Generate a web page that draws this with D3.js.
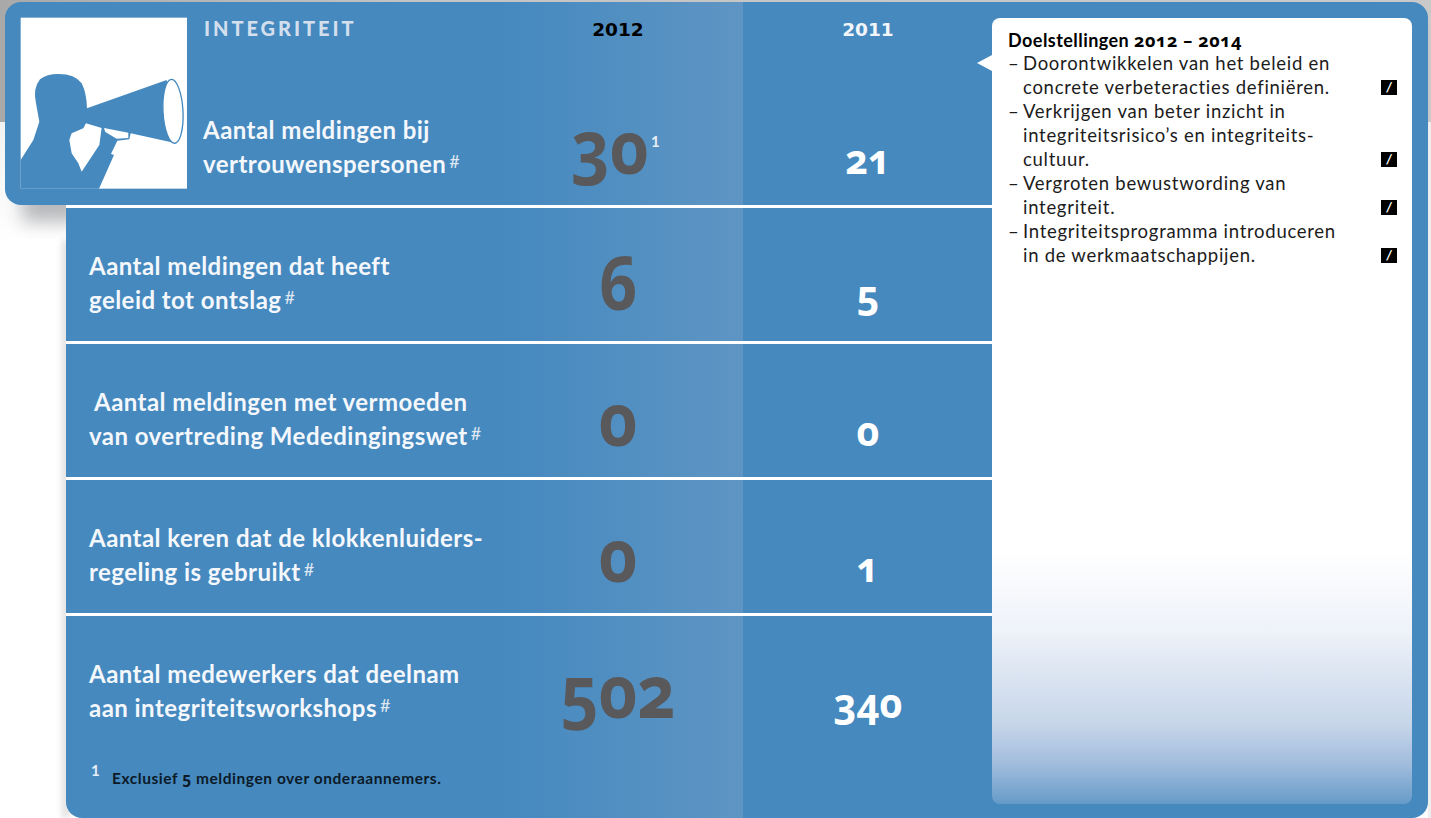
<!DOCTYPE html>
<html>
<head>
<meta charset="utf-8">
<script src="https://cdn.jsdelivr.net/npm/d3@7"></script>
<style>
  html, body { margin: 0; padding: 0; background: #fff; overflow: hidden; }
  svg { display: block; }
  .label { font-family: Lato; font-weight: 700; font-size: 24px; fill: #f4f7fb; letter-spacing: 0.46px; }
  .hash { font-family: Lato; font-weight: 400; font-size: 18px; fill: #dfe8f2; letter-spacing: 0; }
  .year { font-family: "DejaVu Sans"; font-weight: 700; font-size: 18.5px; text-anchor: middle; }
  .num { font-family: "Open Sans"; font-weight: 700; text-anchor: middle; font-feature-settings: "onum"; }
  .onum { font-family: "Open Sans"; font-feature-settings: "onum"; }
  .goal { font-family: Lato; font-size: 18.5px; fill: #1c1c1c; letter-spacing: 0.72px; }
</style>
</head>
<body>
<script>
var years = ["2012", "2011"];
var labels = [
  ["Aantal meldingen bij", "vertrouwenspersonen"],
  ["Aantal meldingen dat heeft", "geleid tot ontslag"],
  ["Aantal meldingen met vermoeden", "van overtreding Mededingingswet"],
  ["Aantal keren dat de klokkenluiders-", "regeling is gebruikt"],
  ["Aantal medewerkers dat deelnam", "aan integriteitsworkshops"]
];
var values2012 = [30, 6, 0, 0, 502];
var values2011 = [21, 5, 0, 1, 340];
var goalLines = [
  "Doorontwikkelen van het beleid en",
  "concrete verbeteracties definiëren.",
  "Verkrijgen van beter inzicht in",
  "integriteitsrisico’s en integriteits-",
  "cultuur.",
  "Vergroten bewustwording van",
  "integriteit.",
  "Integriteitsprogramma introduceren",
  "in de werkmaatschappijen."
];
var goalDashes = [0, 2, 5, 7];
var goalMarks = [1, 4, 6, 8];

var blue = "#4589bf";
var svg = d3.select("body").append("svg").attr("width", 1431).attr("height", 818);
var defs = svg.append("defs");

// gradients + shadow
var colGrad = defs.append("linearGradient").attr("id", "col");
colGrad.append("stop").attr("offset", "0").attr("stop-color", blue);
colGrad.append("stop").attr("offset", "1").attr("stop-color", "#5e95c4");

var bandGrad = defs.append("linearGradient").attr("id", "band");
bandGrad.append("stop").attr("offset", "0").attr("stop-color", "#a9a9a9");
bandGrad.append("stop").attr("offset", "0.3").attr("stop-color", "#c4c4c4");
bandGrad.append("stop").attr("offset", "1").attr("stop-color", "#c9c9c9");

var leftGrad = defs.append("linearGradient").attr("id", "left").attr("x2", 0).attr("y2", 1);
leftGrad.append("stop").attr("offset", "0").attr("stop-color", "#f1f2f2");
leftGrad.append("stop").attr("offset", "1").attr("stop-color", "#ffffff");

var panelGrad = defs.append("linearGradient").attr("id", "panel").attr("x2", 0).attr("y2", 1);
[[0, "#ffffff"], [0.68, "#ffffff"], [0.78, "#eef2f9"], [0.9, "#c6d5e9"], [0.95, "#a0bcdc"], [1, "#659bc8"]].forEach(function (s) {
  panelGrad.append("stop").attr("offset", s[0]).attr("stop-color", s[1]);
});
defs.append("filter").attr("id", "blur").attr("x", "-50%").attr("y", "-50%").attr("width", "200%").attr("height", "200%")
  .append("feGaussianBlur").attr("stdDeviation", 9);
defs.append("filter").attr("id", "blur2").attr("x", "-200%").attr("width", "500%")
  .append("feGaussianBlur").attr("stdDeviation", 3);

// page background band
svg.append("rect").attr("width", 1431).attr("height", 122).attr("fill", "url(#band)");
svg.append("rect").attr("y", 122).attr("width", 66).attr("height", 120).attr("fill", "url(#left)");
svg.append("rect").attr("x", 1428).attr("y", 122).attr("width", 3).attr("height", 696).attr("fill", "#eeeeee");

// shadows
svg.append("rect").attr("x", 22).attr("y", 188).attr("width", 60).attr("height", 34).attr("fill", "#8e9094").attr("opacity", 0.62).attr("filter", "url(#blur)");
svg.append("rect").attr("x", 62).attr("y", 240).attr("width", 8).attr("height", 578).attr("fill", "#999").attr("opacity", 0.3).attr("filter", "url(#blur2)");

// card
svg.append("rect").attr("x", 5).attr("y", 2).attr("width", 1423).attr("height", 203).attr("rx", 16).attr("fill", blue);
svg.append("path").attr("fill", blue)
  .attr("d", "M66 100H1428V802a16 16 0 0 1-16 16H82a16 16 0 0 1-16-16Z");

// lighter 2012 column
svg.append("rect").attr("x", 500).attr("y", 2).attr("width", 243).attr("height", 816).attr("fill", "url(#col)");

var y = d3.scaleBand().domain(d3.range(labels.length)).range([70, 750]);
var x = d3.scalePoint().domain(years).range([618, 868]);

// separators
svg.selectAll("rect.sep").data(d3.range(labels.length - 1)).enter().append("rect")
  .attr("class", "sep")
  .attr("x", 66).attr("width", 926).attr("height", 3)
  .attr("y", function (d) { return y(d) + y.bandwidth() - 1; })
  .attr("fill", "#fff");

// icon
var icon = svg.append("g").attr("transform", "scale(0.3333)");
icon.append("rect").attr("x", 62).attr("y", 53).attr("width", 499).attr("height", 513).attr("fill", "#fff");
icon.append("path").attr("fill", blue).attr("d",
  "M62 480L100 420L118 365L108 310Q98 265 120 238Q140 222 175 222Q225 222 245 250Q260 280 261 325L500 240L528 430L392 400L388 418L352 422L333 462L342 465L297 566H62Z");
icon.append("ellipse").attr("cx", 519).attr("cy", 334).attr("rx", 30).attr("ry", 96)
  .attr("transform", "rotate(-3 519 334)").attr("fill", "#fff").attr("stroke", blue).attr("stroke-width", 4);
icon.append("path").attr("fill", "#fff").attr("d",
  "M258 370L305 384L298 435L245 515L235 490L215 460L208 420L215 400L250 385Z");
icon.append("path").attr("fill", "#fff").attr("d", "M312 384L385 398L385 414L350 416L316 396Z");

// header
svg.append("text").attr("x", 204).attr("y", 36).text("INTEGRITEIT")
  .attr("font-family", "Lato").attr("font-weight", 900).attr("font-size", 20)
  .attr("letter-spacing", 2.95).attr("fill", "#d3dfed");
svg.selectAll("text.year").data(years).enter().append("text")
  .attr("class", "year").attr("x", function (d) { return x(d); }).attr("y", 36)
  .attr("fill", function (d, i) { return i === 0 ? "#000" : "#f2f6fa"; })
  .text(function (d) { return d; });

// row labels
var rows = svg.selectAll("g.row").data(labels).enter().append("g").attr("class", "row")
  .attr("transform", function (d, i) { return "translate(" + (i === 0 ? 203 : 89) + "," + y(i) + ")"; });
rows.append("text").attr("class", "label").attr("y", 69)
  .attr("x", function (d, i) { return i === 2 ? 5 : 0; })
  .text(function (d) { return d[0]; });
var second = rows.append("text").attr("class", "label").attr("y", 103);
second.append("tspan").text(function (d) { return d[1]; });
second.append("tspan").attr("class", "hash").attr("dx", 3).attr("dy", -5).text("#");

// values - digits squeezed a bit, the original face is narrower than Open Sans
svg.selectAll("text.v12").data(values2012).enter().append("text")
  .attr("class", "num v12")
  .attr("transform", function (d, i) { return "translate(" + (x("2012") - (i === 0 ? 8 : 0)) + "," + (y(i) + 104) + ") scale(0.9,1)"; })
  .attr("font-size", 74).attr("fill", "#59595b").text(function (d) { return d; });
svg.selectAll("text.v11").data(values2011).enter().append("text")
  .attr("class", "num v11")
  .attr("transform", function (d, i) { return "translate(" + x("2011") + "," + (y(i) + 104) + ") scale(0.94,1)"; })
  .attr("font-size", 42).attr("fill", "#fff").text(function (d) { return d; });
svg.append("text").attr("x", 651).attr("y", 147).attr("font-family", "Lato").attr("font-weight", 700)
  .attr("font-size", 15).attr("fill", "#e6eef6").text("1");

// footnote
svg.append("text").attr("x", 91).attr("y", 776).attr("font-family", "Lato").attr("font-weight", 700)
  .attr("font-size", 15).attr("fill", "#e6eef6").text("1");
var foot = svg.append("text").attr("x", 112).attr("y", 784).attr("font-family", "Lato").attr("font-weight", 700)
  .attr("font-size", 15.5).attr("letter-spacing", 0.55).attr("fill", "#0c1a28").text("Exclusief ");
foot.append("tspan").attr("class", "onum").text("5");
foot.append("tspan").text(" meldingen over onderaannemers.");

// goals panel
svg.append("rect").attr("x", 992).attr("y", 18).attr("width", 420).attr("height", 786).attr("rx", 8).attr("fill", "url(#panel)");
svg.append("path").attr("d", "M977 63L992 55V71Z").attr("fill", "#fff");
var goalTitle = svg.append("text").attr("x", 1008).attr("y", 47).attr("font-family", "Lato").attr("font-weight", 700)
  .attr("font-size", 18).attr("letter-spacing", 0.45).attr("fill", "#000").text("Doelstellingen ");
goalTitle.append("tspan").attr("class", "onum").attr("letter-spacing", 0.6).text("2012 – 2014");
svg.selectAll("text.goal").data(goalLines).enter().append("text")
  .attr("class", "goal")
  .attr("x", 1023).attr("y", function (d, i) { return 70 + i * 24; })
  .text(function (d) { return d; });
svg.selectAll("text.dash").data(goalDashes).enter().append("text")
  .attr("class", "goal dash")
  .attr("x", 1008).attr("y", function (d) { return 70 + d * 24; })
  .text("–");
var marks = svg.selectAll("g.mark").data(goalMarks).enter().append("g").attr("class", "mark")
  .attr("transform", function (d) { return "translate(1381," + (56 + d * 24) + ")"; });
marks.append("rect").attr("width", 16).attr("height", 15).attr("fill", "#000");
marks.append("text").attr("x", 8).attr("y", 12).attr("text-anchor", "middle").attr("font-family", "Lato")
  .attr("font-weight", 700).attr("font-style", "italic").attr("font-size", 13).attr("fill", "#fff").text("/");
</script>
</body>
</html>
